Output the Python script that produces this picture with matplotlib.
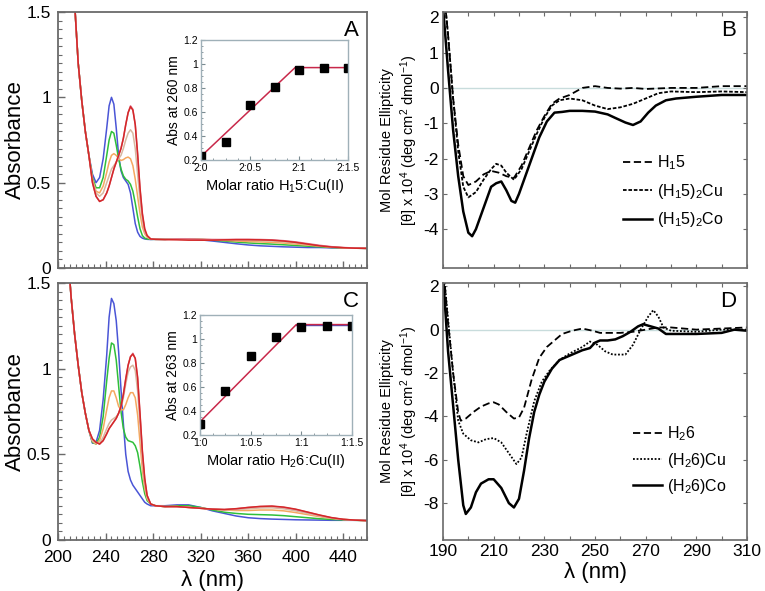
import matplotlib
matplotlib.use('Agg')
import matplotlib.pyplot as plt
from matplotlib.ticker import MultipleLocator, FixedLocator, FixedFormatter

plt.rcParams['font.family'] = ['Liberation Sans', 'DejaVu Sans']
plt.rcParams['mathtext.fontset'] = 'custom'
plt.rcParams['mathtext.rm'] = 'Liberation Sans'
plt.rcParams['mathtext.it'] = 'Liberation Sans:italic'
plt.rcParams['mathtext.bf'] = 'Liberation Sans:bold'

# ---------------- Panel A / C : UV-Vis titration spectra ----------------
uv_head_wl = [205, 208, 211, 214, 217, 220, 223, 226]
uv_wl = [229, 232, 235, 238, 241, 243, 245, 247, 249, 251, 253, 255, 257, 259, 261,
         263, 265, 267, 269, 271, 273, 275, 278, 282, 290, 300, 310, 320, 330, 340,
         350, 360, 370, 380, 390, 400, 410, 420, 430, 440, 450, 460]

A_head = [3.0, 2.5, 2.0, 1.55, 1.2, 0.98, 0.8, 0.66]
A_blue = [0.55, 0.50, 0.53, 0.64, 0.82, 0.95, 1.00, 0.96, 0.82, 0.66, 0.57, 0.53, 0.51, 0.49, 0.44,
          0.35, 0.26, 0.21, 0.185, 0.175, 0.17, 0.168, 0.167, 0.168, 0.168, 0.17, 0.17, 0.165, 0.158, 0.15,
          0.142, 0.135, 0.13, 0.127, 0.124, 0.122, 0.12, 0.12, 0.118, 0.117, 0.116, 0.115]
A_green = [0.53, 0.47, 0.47, 0.53, 0.66, 0.75, 0.80, 0.79, 0.72, 0.64, 0.58, 0.54, 0.52, 0.51, 0.49,
           0.45, 0.38, 0.30, 0.23, 0.19, 0.175, 0.17, 0.168, 0.168, 0.168, 0.17, 0.17, 0.168, 0.163, 0.158,
           0.152, 0.147, 0.143, 0.14, 0.136, 0.132, 0.128, 0.124, 0.12, 0.118, 0.116, 0.115]
A_orange = [0.52, 0.45, 0.44, 0.48, 0.56, 0.62, 0.66, 0.67, 0.66, 0.64, 0.63, 0.635, 0.645, 0.65, 0.64,
            0.60, 0.52, 0.42, 0.32, 0.24, 0.20, 0.18, 0.17, 0.168, 0.168, 0.17, 0.17, 0.168, 0.165, 0.162,
            0.158, 0.155, 0.153, 0.15, 0.146, 0.14, 0.134, 0.128, 0.122, 0.118, 0.116, 0.115]
A_tan = [0.51, 0.44, 0.42, 0.44, 0.50, 0.54, 0.58, 0.60, 0.62, 0.64, 0.66, 0.70, 0.75, 0.79, 0.81,
         0.79, 0.70, 0.55, 0.40, 0.28, 0.21, 0.185, 0.17, 0.168, 0.168, 0.17, 0.17, 0.168, 0.166, 0.165,
         0.164, 0.162, 0.16, 0.158, 0.153, 0.146, 0.138, 0.13, 0.124, 0.119, 0.116, 0.115]
A_pink = [0.50, 0.42, 0.39, 0.40, 0.44, 0.48, 0.53, 0.58, 0.62, 0.66, 0.70, 0.76, 0.84, 0.91, 0.95,
          0.93, 0.84, 0.66, 0.46, 0.31, 0.22, 0.19, 0.17, 0.168, 0.168, 0.17, 0.17, 0.168, 0.167, 0.167,
          0.168, 0.168, 0.167, 0.165, 0.16, 0.153, 0.143, 0.133, 0.125, 0.12, 0.117, 0.115]
A_red = [0.50, 0.42, 0.39, 0.40, 0.44, 0.48, 0.53, 0.58, 0.62, 0.66, 0.70, 0.76, 0.84, 0.91, 0.945,
         0.925, 0.84, 0.67, 0.47, 0.32, 0.23, 0.19, 0.17, 0.168, 0.166, 0.165, 0.163, 0.163, 0.163, 0.165,
         0.166, 0.166, 0.165, 0.163, 0.158, 0.15, 0.14, 0.13, 0.123, 0.119, 0.116, 0.115]

C_head = [2.0, 1.7, 1.42, 1.2, 1.02, 0.86, 0.74, 0.64]
C_blue = [0.565, 0.57, 0.64, 0.82, 1.08, 1.30, 1.41, 1.38, 1.28, 1.10, 0.88, 0.68, 0.50, 0.40, 0.35,
          0.32, 0.30, 0.28, 0.26, 0.24, 0.22, 0.21, 0.20, 0.20, 0.20, 0.205, 0.205, 0.19, 0.17, 0.155,
          0.14, 0.13, 0.125, 0.122, 0.12, 0.118, 0.117, 0.116, 0.115, 0.115, 0.115, 0.115]
C_green = [0.57, 0.56, 0.60, 0.72, 0.93, 1.06, 1.15, 1.14, 1.05, 0.90, 0.75, 0.65, 0.60, 0.58, 0.575,
           0.57, 0.55, 0.51, 0.43, 0.34, 0.27, 0.23, 0.21, 0.20, 0.195, 0.20, 0.20, 0.19, 0.175, 0.162,
           0.155, 0.15, 0.148, 0.146, 0.142, 0.136, 0.13, 0.124, 0.12, 0.117, 0.115, 0.113]
C_orange = [0.575, 0.56, 0.58, 0.65, 0.76, 0.83, 0.87, 0.87, 0.83, 0.78, 0.76, 0.76, 0.79, 0.83, 0.86,
            0.86, 0.83, 0.73, 0.57, 0.41, 0.30, 0.24, 0.21, 0.20, 0.195, 0.195, 0.19, 0.185, 0.18, 0.175,
            0.172, 0.172, 0.175, 0.175, 0.17, 0.16, 0.148, 0.136, 0.126, 0.12, 0.116, 0.113]
C_tan = [0.58, 0.565, 0.565, 0.60, 0.65, 0.68, 0.70, 0.71, 0.72, 0.74, 0.77, 0.83, 0.91, 0.98, 1.01,
         1.02, 0.99, 0.87, 0.67, 0.47, 0.33, 0.25, 0.21, 0.20, 0.195, 0.195, 0.19, 0.185, 0.18, 0.177,
         0.178, 0.182, 0.187, 0.188, 0.182, 0.17, 0.155, 0.14, 0.128, 0.12, 0.116, 0.113]
C_pink = [0.59, 0.57, 0.56, 0.58, 0.62, 0.65, 0.67, 0.69, 0.71, 0.74, 0.78, 0.85, 0.94, 1.02, 1.07,
          1.09, 1.06, 0.94, 0.73, 0.51, 0.35, 0.26, 0.21, 0.20, 0.195, 0.195, 0.19, 0.185, 0.18, 0.178,
          0.182, 0.19, 0.195, 0.197, 0.19, 0.178, 0.162, 0.145, 0.13, 0.12, 0.116, 0.113]
C_red = [0.59, 0.57, 0.56, 0.58, 0.62, 0.65, 0.67, 0.69, 0.71, 0.74, 0.78, 0.85, 0.94, 1.02, 1.07,
         1.085, 1.06, 0.95, 0.74, 0.52, 0.36, 0.26, 0.21, 0.20, 0.195, 0.195, 0.19, 0.185, 0.18, 0.178,
         0.183, 0.19, 0.196, 0.198, 0.192, 0.18, 0.163, 0.146, 0.131, 0.121, 0.116, 0.113]

uv_colors = ['#4a55d6', '#2fbf3a', '#f5a860', '#d8b8a0', '#e0708c', '#d42828']

# ---------------- Insets ----------------
ratio_x = [0.0, 0.25, 0.5, 0.75, 1.0, 1.25, 1.5]
A_inset_y = [0.235, 0.35, 0.66, 0.81, 0.95, 0.97, 0.97]
A_fit_x = [0.0, 0.96, 1.5]
A_fit_y = [0.23, 0.97, 0.97]
C_inset_y = [0.29, 0.57, 0.86, 1.02, 1.10, 1.11, 1.11]
C_fit_x = [0.0, 0.95, 1.5]
C_fit_y = [0.31, 1.12, 1.12]
A_inset_xticklabels = ['2:0', '2:0.5', '2:1', '2:1.5']
C_inset_xticklabels = ['1:0', '1:0.5', '1:1', '1:1.5']
inset_yticklabels = ['0.2', '0.4', '0.6', '0.8', '1', '1.2']

# ---------------- Panel B : CD spectra ----------------
B_wl_H = [190, 192, 194, 196, 198, 200, 203, 206, 209, 212, 215, 218, 221, 224, 227, 230, 233, 236,
          240, 245, 250, 255, 260, 265, 270, 280, 290, 300, 310]
B_H15 = [3.0, 1.5, -0.3, -1.6, -2.5, -2.75, -2.65, -2.45, -2.35, -2.4, -2.5, -2.55, -2.2, -1.7, -1.2,
         -0.8, -0.45, -0.3, -0.2, 0.0, 0.05, 0.0, -0.02, 0.0, -0.03, 0.0, 0.0, 0.05, 0.05]
B_wl_Cu = [190, 192, 194, 196, 198, 200, 203, 206, 209, 211, 213, 215, 218, 221, 224, 227, 230, 233,
           236, 240, 245, 250, 255, 260, 265, 270, 275, 280, 290, 300, 310]
B_Cu = [3.0, 1.5, -0.3, -1.8, -2.8, -3.1, -2.95, -2.6, -2.3, -2.15, -2.2, -2.4, -2.6, -2.3, -1.8,
        -1.3, -0.85, -0.5, -0.35, -0.3, -0.35, -0.5, -0.6, -0.55, -0.45, -0.3, -0.15, -0.1, -0.12,
        -0.1, -0.12]
B_wl_Co = [190, 192, 194, 196, 198, 200, 201.5, 203, 205, 207, 209, 211, 213, 215, 217, 218.5, 220,
           222, 225, 228, 231, 234, 237, 240, 245, 250, 255, 258, 262, 265, 268, 271, 274, 278, 282,
           290, 300, 310]
B_Co = [2.3, 0.5, -1.2, -2.5, -3.5, -4.1, -4.2, -4.0, -3.6, -3.2, -2.8, -2.7, -2.65, -2.9, -3.2,
        -3.25, -3.0, -2.6, -2.0, -1.4, -0.95, -0.7, -0.68, -0.65, -0.65, -0.67, -0.75, -0.85, -0.98,
        -1.05, -0.95, -0.7, -0.5, -0.35, -0.3, -0.25, -0.2, -0.2]
B_labels = [r'H$_\mathregular{1}$5', r'(H$_\mathregular{1}$5)$_\mathregular{2}$Cu',
            r'(H$_\mathregular{1}$5)$_\mathregular{2}$Co']

# ---------------- Panel D : CD spectra ----------------
D_wl_H = [190, 192, 194, 196, 197, 199, 202, 205, 208, 210, 212, 215, 218, 220, 222, 225, 228, 231,
          234, 237, 241, 245, 249, 252, 256, 260, 265, 270, 275, 280, 290, 300, 310]
D_H26 = [3.0, 0.3, -2.0, -3.8, -4.2, -4.1, -3.8, -3.55, -3.4, -3.35, -3.45, -3.8, -4.1, -4.05, -3.6,
         -2.3, -1.3, -0.8, -0.5, -0.2, -0.05, 0.05, -0.05, -0.15, -0.15, -0.15, -0.1, 0.0, 0.1, 0.1,
         0.0, 0.05, 0.1]
D_wl_Cu = [190, 192, 194, 196, 198, 201, 204, 207, 210, 213, 216, 219, 221, 223, 226, 229, 232, 236,
           240, 245, 248, 251, 254, 257, 262, 265, 268, 271, 273, 275, 277, 280, 290, 300, 310]
D_Cu = [3.0, 0.5, -2.0, -4.2, -4.8, -5.1, -5.2, -5.05, -5.0, -5.2, -5.7, -6.2, -5.9, -4.8, -3.3,
        -2.4, -1.9, -1.4, -1.1, -0.8, -0.55, -0.7, -1.0, -1.15, -1.15, -0.7, 0.0, 0.6, 0.9, 0.6,
        0.1, -0.05, -0.1, 0.0, 0.0]
D_wl_Co = [190, 192, 194, 196, 198, 199, 201, 203, 205, 208, 210, 213, 216, 218, 220, 222, 224, 226,
           228, 230, 233, 236, 240, 245, 248, 250, 252, 255, 258, 261, 264, 267, 269, 272, 275, 278,
           282, 290, 300, 305, 310]
D_Co = [2.5, -1.0, -3.5, -6.0, -8.1, -8.5, -8.2, -7.5, -7.1, -6.9, -6.9, -7.3, -8.0, -8.2, -7.8,
        -6.5, -5.0, -3.8, -3.0, -2.4, -1.8, -1.4, -1.2, -0.95, -0.85, -0.6, -0.5, -0.5, -0.45, -0.3,
        -0.1, 0.15, 0.25, 0.15, 0.05, -0.2, -0.2, -0.2, -0.15, 0.0, -0.05]
D_labels = [r'H$_\mathregular{2}$6', r'(H$_\mathregular{2}$6)Cu', r'(H$_\mathregular{2}$6)Co']
cd_xticks = [190, 210, 230, 250, 270, 290, 310]

# ======================================================================
W, H = 765, 591
fig = plt.figure(figsize=(W / 100, H / 100), dpi=100)


def rect(l, t, r, b):
    return [l / W, 1 - b / H, (r - l) / W, (b - t) / H]


spine_col = '#6a6a6a'
cd_ylabel = ('Mol Residue Ellipticity\n'
             r'[θ] x 10$^\mathregular{4}$ (deg cm$^\mathregular{2}$ dmol$^\mathregular{-1}$)')


def style_uv(ax, show_xlabels):
    ax.set_xlim(200, 460)
    ax.set_ylim(0, 1.5)
    ax.yaxis.set_major_locator(FixedLocator([0, 0.5, 1, 1.5]))
    ax.yaxis.set_major_formatter(FixedFormatter(['0', '0.5', '1', '1.5']))
    ax.yaxis.set_minor_locator(MultipleLocator(0.05))
    ax.xaxis.set_major_locator(MultipleLocator(40))
    ax.xaxis.set_minor_locator(MultipleLocator(5))
    ax.tick_params(which='both', direction='in', top=False, right=False,
                   color=spine_col, labelsize=12.5)
    ax.tick_params(axis='y', pad=5)
    ax.tick_params(axis='x', pad=7)
    ax.tick_params(which='major', length=5, width=1)
    ax.tick_params(which='minor', length=3, width=0.8)
    if not show_xlabels:
        ax.tick_params(axis='x', labelbottom=False)
    for s in ax.spines.values():
        s.set_color(spine_col)
        s.set_linewidth(1.3)
    ax.set_ylabel('Absorbance', fontsize=16)
    ax.yaxis.set_label_coords(-0.105, 0.5)


def draw_uv(ax, head, curves):
    for vals, col in zip(curves, uv_colors):
        ax.plot(uv_head_wl + uv_wl, head + vals, color=col, lw=1.1)


def draw_inset(ax, y, fitx, fity, xlabels, ylabel, xlabel, blue_flat=False):
    if blue_flat:
        ax.plot(fitx[1:], [v - 0.006 for v in fity[1:]], color='#4050c0', lw=1.0)
    ax.plot(fitx, fity, color='#c8284a', lw=1.1)
    ax.plot(ratio_x, y, 's', color='black', ms=6)
    ax.set_xlim(0, 1.5)
    ax.set_ylim(0.2, 1.2)
    ax.xaxis.set_major_locator(FixedLocator([0, 0.5, 1, 1.5]))
    ax.xaxis.set_major_formatter(FixedFormatter(xlabels))
    ax.xaxis.set_minor_locator(MultipleLocator(0.125))
    ax.yaxis.set_major_locator(FixedLocator([0.2, 0.4, 0.6, 0.8, 1.0, 1.2]))
    ax.yaxis.set_major_formatter(FixedFormatter(inset_yticklabels))
    ax.yaxis.set_minor_locator(MultipleLocator(0.05))
    ax.tick_params(which='both', direction='in', labelsize=7.5, color='#7a8a90', pad=2)
    ax.tick_params(which='major', length=3)
    ax.tick_params(which='minor', length=1.5)
    for s in ax.spines.values():
        s.set_color('#9fb0b8')
        s.set_linewidth(1.0)
    ax.set_ylabel(ylabel, fontsize=10, labelpad=2)
    ax.set_xlabel(xlabel, fontsize=10.5, labelpad=3)


def style_cd(ax, ylim, ymajor, ylabels, show_xlabels):
    ax.set_xlim(190, 310)
    ax.set_ylim(*ylim)
    ax.yaxis.set_major_locator(FixedLocator(ymajor))
    ax.yaxis.set_major_formatter(FixedFormatter(ylabels))
    ax.xaxis.set_major_locator(FixedLocator(cd_xticks))
    ax.xaxis.set_minor_locator(MultipleLocator(10))
    ax.tick_params(which='both', direction='in', top=True, right=True,
                   color=spine_col, labelsize=12.5, pad=3)
    ax.tick_params(which='both', length=3, width=0.8)
    if not show_xlabels:
        ax.tick_params(axis='x', labelbottom=False)
    for s in ax.spines.values():
        s.set_color(spine_col)
        s.set_linewidth(1.2)
    ax.axhline(0, color='#c8dcdc', lw=1.0, zorder=0)
    ax.set_ylabel(cd_ylabel, fontsize=10.5, linespacing=1.25)
    ax.yaxis.set_label_coords(-0.076, 0.5)


# ---- Panel A
axA = fig.add_axes(rect(58, 12, 367, 268))
draw_uv(axA, A_head, [A_blue, A_green, A_orange, A_tan, A_pink, A_red])
style_uv(axA, False)
axA.text(0.975, 0.97, 'A', transform=axA.transAxes, ha='right', va='top', fontsize=16)

insA = fig.add_axes(rect(201, 40, 348, 160))
draw_inset(insA, A_inset_y, A_fit_x, A_fit_y, A_inset_xticklabels, 'Abs at 260 nm',
           r'Molar ratio H$_\mathregular{1}$5:Cu(II)')

# ---- Panel C
axC = fig.add_axes(rect(58, 283, 367, 540))
draw_uv(axC, C_head, [C_blue, C_green, C_orange, C_tan, C_pink, C_red])
style_uv(axC, True)
axC.set_xlabel('λ (nm)', fontsize=16, labelpad=4)
axC.text(0.975, 0.97, 'C', transform=axC.transAxes, ha='right', va='top', fontsize=16)

insC = fig.add_axes(rect(200, 315, 352, 435))
draw_inset(insC, C_inset_y, C_fit_x, C_fit_y, C_inset_xticklabels, 'Abs at 263 nm',
           r'Molar ratio H$_\mathregular{2}$6:Cu(II)', blue_flat=True)

# ---- Panel B
axB = fig.add_axes(rect(443, 12, 747, 268))
lB1, = axB.plot(B_wl_H, B_H15, color='black', lw=1.3, dashes=(4, 2))
lB2, = axB.plot(B_wl_Cu, B_Cu, color='black', lw=1.3, dashes=(2, 1))
lB3, = axB.plot(B_wl_Co, B_Co, color='black', lw=1.8)
style_cd(axB, (-5.1, 2.15), [-4, -3, -2, -1, 0, 1, 2], ['-4', '-3', '-2', '-1', '0', '1', '2'], False)
axB.text(0.965, 0.97, 'B', transform=axB.transAxes, ha='right', va='top', fontsize=16)
axB.legend([lB1, lB2, lB3], B_labels, loc='center left', bbox_to_anchor=(0.592, 0.30),
           frameon=False, fontsize=11.5, handlelength=1.8, handletextpad=0.3,
           labelspacing=0.6, borderpad=0, borderaxespad=0)

# ---- Panel D
axD = fig.add_axes(rect(443, 283, 747, 540))
lD1, = axD.plot(D_wl_H, D_H26, color='black', lw=1.3, dashes=(4, 2))
lD2, = axD.plot(D_wl_Cu, D_Cu, color='black', lw=1.3, dashes=(1, 1))
lD3, = axD.plot(D_wl_Co, D_Co, color='black', lw=1.8)
style_cd(axD, (-9.7, 2.15), [-8, -6, -4, -2, 0, 2], ['-8', '-6', '-4', '-2', '0', '2'], True)
axD.set_xlabel('λ (nm)', fontsize=16, labelpad=2)
axD.text(0.965, 0.97, 'D', transform=axD.transAxes, ha='right', va='top', fontsize=16)
axD.legend([lD1, lD2, lD3], D_labels, loc='center left', bbox_to_anchor=(0.625, 0.31),
           frameon=False, fontsize=11.5, handlelength=1.8, handletextpad=0.3,
           labelspacing=0.45, borderpad=0, borderaxespad=0)

fig.savefig('out.png', dpi=100)
